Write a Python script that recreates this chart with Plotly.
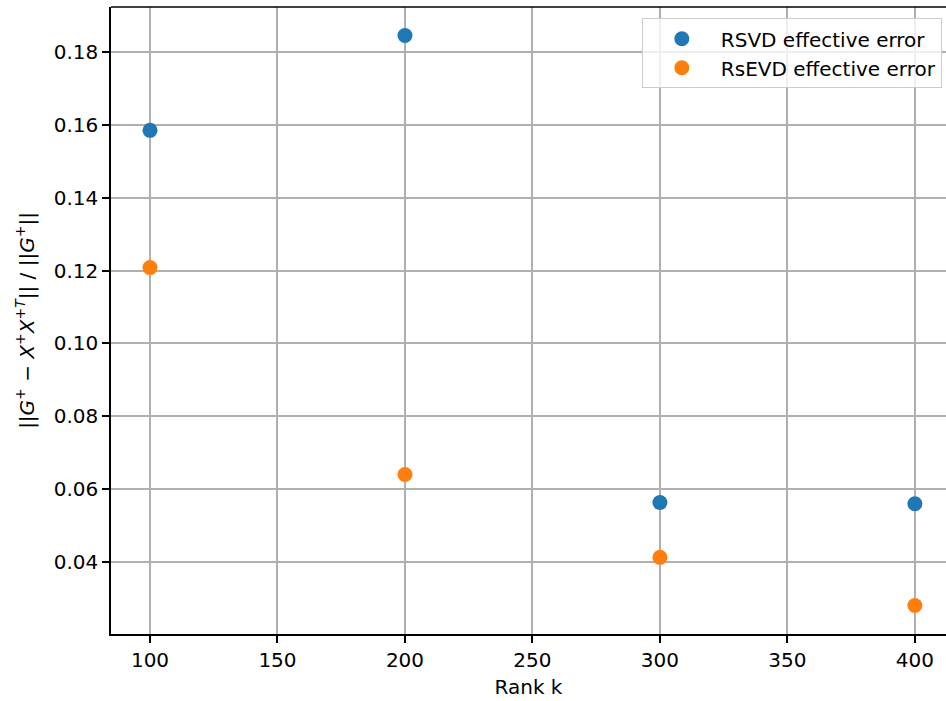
import plotly.graph_objects as go

ranks = [100, 200, 300, 400]
rsvd_error = [0.1584, 0.1844, 0.0564, 0.0561]
rsevd_error = [0.1208, 0.0641, 0.0414, 0.0282]
series_names = ["RSVD effective error", "RsEVD effective error"]
x_ticks = [100, 150, 200, 250, 300, 350, 400]
y_ticks = [0.04, 0.06, 0.08, 0.10, 0.12, 0.14, 0.16, 0.18]

FONT = "DejaVu Sans"

fig = go.Figure()
fig.add_trace(go.Scatter(x=ranks, y=rsvd_error, mode="markers", name=series_names[0],
                         marker=dict(color="#1f77b4", size=15)))
fig.add_trace(go.Scatter(x=ranks, y=rsevd_error, mode="markers", name=series_names[1],
                         marker=dict(color="#ff7f0e", size=15)))

axis_common = dict(
    showgrid=True, gridcolor="#b0b0b0", gridwidth=1.5,
    showline=True, linecolor="black", linewidth=1.6,
    ticks="outside", ticklen=7, tickwidth=1.6, tickcolor="black",
    zeroline=False,
    tickfont=dict(family=FONT, size=20, color="black"),
)

fig.update_layout(
    width=946, height=701,
    margin=dict(l=111, r=0, t=7, b=67),
    paper_bgcolor="white", plot_bgcolor="white",
    font=dict(family=FONT, size=20, color="black"),
    xaxis=dict(range=[84.7, 412.2], tickvals=x_ticks, mirror=False,
               title=dict(text="Rank k", font=dict(family=FONT, size=20), standoff=9),
               **axis_common),
    yaxis=dict(range=[0.0204, 0.1922], tickvals=y_ticks, tickformat=".2f",
               title=dict(text="||<i>G</i><sup>+</sup> − <i>X</i><sup>+</sup><i>X</i><sup>+<i>T</i></sup>|| / ||<i>G</i><sup>+</sup>||",
                          font=dict(family=FONT, size=20), standoff=14),
               **axis_common),
    legend=dict(x=0.995, y=0.982, xanchor="right", yanchor="top",
                bgcolor="rgba(255,255,255,0.8)", bordercolor="#cccccc", borderwidth=1,
                font=dict(family=FONT, size=20, color="black"),
                itemsizing="trace", itemwidth=68),
    showlegend=True,
)
# top spine
fig.add_shape(type="line", xref="paper", yref="paper", x0=0, x1=1, y0=1, y1=1,
              line=dict(color="black", width=1.6))

fig.write_html("out.html", config={"displayModeBar": False},
               post_script="document.body.style.margin='0';document.body.style.overflow='hidden';")
